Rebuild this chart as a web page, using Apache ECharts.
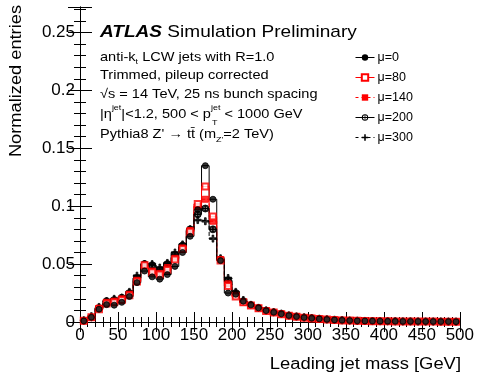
<!DOCTYPE html>
<html>
<head>
<meta charset="utf-8">
<script src="https://cdn.jsdelivr.net/npm/echarts@6/dist/echarts.min.js"></script>
<style>
html,body{margin:0;padding:0;background:#fff;}
#chart{width:477px;height:375px;}
</style>
</head>
<body>
<div id="chart"></div>
<script>
// leading jet mass, 10 GeV bins (lower edges)
var binLow = [0,10,20,30,40,50,60,70,80,90,100,110,120,130,140,150,160,170,180,190,
	200,210,220,230,240,250,260,270,280,290,300,310,320,330,340,350,360,370,380,390,
	400,410,420,430,440,450,460,470,480,490];
var binWidth = 10;

var mu0 = [0.001,0.004,0.011,0.015,0.0145,0.017,0.022,0.034,0.044,0.039,
	0.037,0.041,0.048,0.060,0.074,0.097,0.135,0.106,0.053,0.025,
	0.024,0.018,0.0148,0.0122,0.0099,0.0084,0.0071,0.0056,0.0047,0.0039,
	0.0033,0.0027,0.0022,0.0018,0.0015,0.0012,0.0010,0.0009,0.0008,0.0007,
	0.0006,0.0006,0.0005,0.0005,0.0005,0.0004,0.0004,0.0004,0.0004,0.0003];
var mu80 = [0.001,0.004,0.011,0.016,0.017,0.019,0.023,0.035,0.049,0.043,
	0.041,0.045,0.054,0.063,0.078,0.102,0.117,0.091,0.053,0.031,
	0.022,0.017,0.0142,0.0118,0.0096,0.0081,0.0068,0.0054,0.0045,0.0037,
	0.0031,0.0026,0.0021,0.0017,0.0014,0.0012,0.0010,0.0008,0.0007,0.0007,
	0.0006,0.0005,0.0005,0.0005,0.0004,0.0004,0.0004,0.0003,0.0003,0.0003];
var mu140 = [0.001,0.004,0.012,0.017,0.018,0.020,0.024,0.036,0.049,0.044,
	0.042,0.047,0.055,0.064,0.079,0.100,0.106,0.087,0.054,0.033,
	0.023,0.017,0.0143,0.0119,0.0097,0.0082,0.0069,0.0055,0.0046,0.0038,
	0.0032,0.0026,0.0021,0.0018,0.0014,0.0012,0.0010,0.0009,0.0007,0.0007,
	0.0006,0.0005,0.0005,0.0005,0.0004,0.0004,0.0004,0.0004,0.0003,0.0003];
var mu200 = [0.001,0.004,0.012,0.018,0.019,0.021,0.025,0.038,0.050,0.049,
	0.045,0.050,0.058,0.066,0.080,0.093,0.098,0.080,0.054,0.036,
	0.025,0.018,0.0146,0.0121,0.0099,0.0084,0.0071,0.0056,0.0047,0.0039,
	0.0033,0.0027,0.0022,0.0018,0.0015,0.0012,0.0010,0.0009,0.0008,0.0007,
	0.0006,0.0006,0.0005,0.0005,0.0004,0.0004,0.0004,0.0004,0.0003,0.0003];
var mu300 = [0.0015,0.005,0.013,0.018,0.020,0.021,0.026,0.040,0.050,0.050,
	0.047,0.051,0.060,0.067,0.080,0.088,0.087,0.072,0.055,0.038,
	0.026,0.019,0.0148,0.0122,0.0100,0.0085,0.0072,0.0057,0.0048,0.0040,
	0.0034,0.0028,0.0023,0.0019,0.0015,0.0013,0.0011,0.0009,0.0008,0.0007,
	0.0007,0.0006,0.0005,0.0005,0.0005,0.0004,0.0004,0.0004,0.0004,0.0003];

var seriesNames = ['μ=0','μ=80','μ=140','μ=200','μ=300'];

var FONT = 'Liberation Sans';
var plusPath = 'path://M3.8,0 L6.2,0 L6.2,3.8 L10,3.8 L10,6.2 L6.2,6.2 L6.2,10 L3.8,10 L3.8,6.2 L0,6.2 L0,3.8 L3.8,3.8 Z';
var circlePlusPath = 'path://M0,5 A5,5 0 1,0 10,5 A5,5 0 1,0 0,5 Z M1.5,5 A3.5,3.5 0 1,1 8.5,5 A3.5,3.5 0 1,1 1.5,5 Z M4.4,1 L5.6,1 L5.6,9 L4.4,9 Z M1,4.4 L9,4.4 L9,5.6 L1,5.6 Z';

var styles = [
	{color:'#000000', type:'solid', symbol:'circle', size:6},
	{color:'#ff0000', type:'solid', symbol:'emptyRect', size:6},
	{color:'#ff0000', type:'dashed', symbol:'rect', size:6},
	{color:'#000000', type:'solid', symbol:circlePlusPath, size:7},
	{color:'#000000', type:'dashed', symbol:plusPath, size:7}
];

function stepPoints(vals){
	var pts = [];
	for (var i = 0; i < vals.length; i++) {
		pts.push([binLow[i], vals[i]]);
		pts.push([binLow[i] + binWidth, vals[i]]);
	}
	return pts;
}

function centerPoints(vals){
	var pts = [];
	for (var i = 0; i < vals.length; i++) {
		pts.push([binLow[i] + binWidth / 2, vals[i]]);
	}
	return pts;
}

var allVals = [mu0, mu80, mu140, mu200, mu300];
var series = [];
var legendData = [];
for (var s = 0; s < allVals.length; s++) {
	var st = styles[s];
	series.push({
		name: seriesNames[s],
		type: 'line',
		data: stepPoints(allVals[s]),
		symbol: st.symbol,
		symbolSize: st.size,
		showSymbol: false,
		lineStyle: {color: st.color, width: 1, type: st.type},
		itemStyle: {color: st.color},
		z: 2,
		silent: true,
		animation: false
	});
	legendData.push({
		name: seriesNames[s],
		lineStyle: {color: st.color, width: 1, type: st.type === 'dashed' ? [3, 3] : 'solid'}
	});
}
for (var s = 0; s < allVals.length; s++) {
	var st = styles[s];
	series.push({
		name: seriesNames[s],
		type: 'scatter',
		data: centerPoints(allVals[s]),
		symbol: st.symbol,
		symbolSize: st.size,
		itemStyle: {color: st.color, borderColor: st.color, borderWidth: 1},
		z: 3 + (allVals.length - s),
		silent: true,
		animation: false
	});
}

var chart = echarts.init(document.getElementById('chart'));

// shared axis look (ROOT style, ticks inside, mirrored on top/right)
function axisStyle(showLabel, tickLen){
	return {
		axisLine: {show: true, lineStyle: {color: '#000', width: 1}},
		axisTick: {show: true, inside: true, length: tickLen, lineStyle: {color: '#000'}},
		minorTick: {show: true, splitNumber: 5, length: tickLen / 2, lineStyle: {color: '#000'}},
		splitLine: {show: false},
		axisLabel: showLabel ? {fontSize: 17, color: '#000', fontFamily: FONT, margin: 5, showMaxLabel: false} : {show: false}
	};
}

var xMain = Object.assign({type: 'value', min: 0, max: 500, interval: 50}, axisStyle(true, 10));
xMain.axisLabel.showMaxLabel = true;
var xTop = Object.assign({type: 'value', position: 'top', min: 0, max: 500, interval: 50}, axisStyle(false, 10));
var yMain = Object.assign({type: 'value', min: 0, max: 0.272, interval: 0.05}, axisStyle(true, 12));
var yRight = Object.assign({type: 'value', position: 'right', min: 0, max: 0.272, interval: 0.05}, axisStyle(false, 12));

var option = {
	animation: false,
	backgroundColor: '#fff',
	grid: {left: 80, right: 16, top: 7, bottom: 53},
	legend: {
		orient: 'vertical',
		left: 350,
		top: 46,
		itemWidth: 19,
		itemHeight: 8,
		itemGap: 7,
		textStyle: {fontSize: 12.5, color: '#000', fontFamily: FONT, padding: [0, 0, 0, -2]},
		data: legendData
	},
	xAxis: [xMain, xTop],
	yAxis: [yMain, yRight],
	series: series,
	graphic: [
		{
			type: 'group', x: 100, y: 0, scaleX: 1.12,
			children: [
				{
					type: 'text', x: 0, y: 24,
					style: {
						text: '{b|ATLAS} Simulation Preliminary',
						fontSize: 17, fontFamily: FONT, fill: '#000',
						rich: {b: {fontSize: 17, fontWeight: 'bold', fontStyle: 'italic', fontFamily: FONT}}
					}
				},
				{
					type: 'text', x: 0, y: 48,
					style: {
						text: 'anti-k{sub|t} LCW jets with R=1.0',
						fontSize: 13, fontFamily: FONT, fill: '#000', lineHeight: 18,
						rich: {sub: {fontSize: 8, verticalAlign: 'bottom', fontFamily: FONT, lineHeight: 18}}
					}
				},
				{
					type: 'text', x: 0, y: 69,
					style: {text: 'Trimmed, pileup corrected', fontSize: 13, fontFamily: FONT, fill: '#000'}
				},
				{
					type: 'text', x: 0, y: 88,
					style: {text: '√s = 14 TeV, 25 ns bunch spacing', fontSize: 13, fontFamily: FONT, fill: '#000'}
				},
				{
					type: 'text', x: 0, y: 104,
					style: {
						text: '|η{sup|jet}|<1.2, 500 < p{sup|jet} < 1000 GeV',
						fontSize: 13, fontFamily: FONT, fill: '#000', lineHeight: 20,
						rich: {sup: {fontSize: 8, verticalAlign: 'top', fontFamily: FONT, lineHeight: 20}}
					}
				},
				{
					type: 'text', x: 100, y: 119,
					style: {text: 'T', fontSize: 8, fontFamily: FONT, fill: '#000'}
				},
				{
					type: 'text', x: 0, y: 124,
					style: {
						text: 'Pythia8 Z\' \u2192 tt\u0304 (m{sub|Z\'}=2 TeV)',
						fontSize: 13, fontFamily: FONT, fill: '#000', lineHeight: 20,
						rich: {sub: {fontSize: 8, verticalAlign: 'bottom', fontFamily: FONT, lineHeight: 20}}
					}
				}
			]
		},
		{
			type: 'text', x: 17, y: 5, rotation: Math.PI / 2, scaleX: 1.14,
			style: {
				text: 'Normalized entries', fontSize: 16, fontFamily: FONT, fill: '#000',
				align: 'right', verticalAlign: 'middle'
			}
		},
		{
			type: 'text', x: 461, y: 365, scaleX: 1.15,
			style: {
				text: 'Leading jet mass [GeV]', fontSize: 16, fontFamily: FONT, fill: '#000',
				align: 'right', verticalAlign: 'middle'
			}
		}
	]
};

chart.setOption(option);
</script>
</body>
</html>
